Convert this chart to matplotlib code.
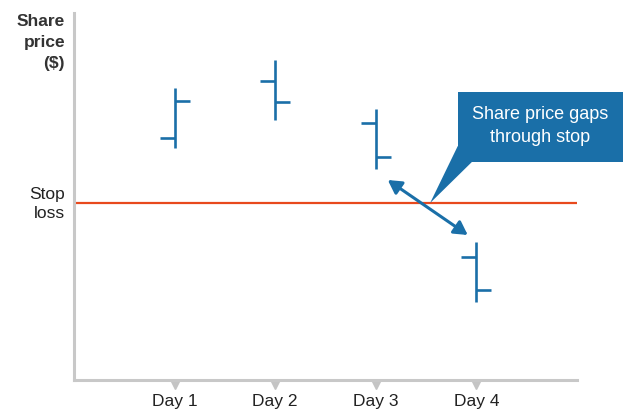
import matplotlib
matplotlib.use("Agg")
import matplotlib.pyplot as plt
from matplotlib.patches import Rectangle, Polygon
from matplotlib.transforms import blended_transform_factory

plt.rcParams['font.family'] = ['Liberation Sans', 'DejaVu Sans']

# OHLC share price data (arbitrary price units)
days = ["Day 1", "Day 2", "Day 3", "Day 4"]
opens = [24.2, 29.9, 25.7, 12.3]
highs = [29.2, 32.0, 27.1, 13.8]
lows = [23.2, 26.0, 21.1, 7.8]
closes = [27.9, 27.8, 22.3, 9.0]
stop_loss = 17.7

BLUE = "#1a6fa8"
RED = "#e8491d"
GREY = "#c8c8c8"

fig = plt.figure(figsize=(6.30, 4.12), dpi=100)
W, H = 630, 412
ax = fig.add_axes([74 / W, (H - 380) / H, (577 - 74) / W, (380 - 13) / H])
ax.set_xlim(0, 5)
ax.set_ylim(0, 36.7)

xs = list(range(1, len(days) + 1))
tick_len = 0.15
for x, o, h, l, c in zip(xs, opens, highs, lows, closes):
    ax.plot([x, x], [l, h], color=BLUE, lw=1.9, solid_capstyle="butt")
    ax.plot([x - tick_len, x], [o, o], color=BLUE, lw=1.9, solid_capstyle="butt")
    ax.plot([x, x + tick_len], [c, c], color=BLUE, lw=1.9, solid_capstyle="butt")

# stop-loss level
ax.axhline(stop_loss, color=RED, lw=1.6)

# axes styling
for side in ("top", "right"):
    ax.spines[side].set_visible(False)
for side in ("left", "bottom"):
    ax.spines[side].set_color(GREY)
    ax.spines[side].set_linewidth(2.2)
ax.set_yticks([])
ax.set_xticks(xs)
ax.set_xticklabels(days, fontsize=12.5, color="#222222")
ax.tick_params(axis="x", length=0, pad=10)

# small triangular tick markers below the x axis
trans = blended_transform_factory(ax.transData, ax.transAxes)
ax.plot(xs, [-0.014] * len(xs), linestyle="none", marker="v", ms=6,
        color="#c4c4c4", transform=trans, clip_on=False)

# axis labels
fig.text(65 / W, 1 - 14 / H, "Share\nprice\n($)", ha="right", va="top",
         fontsize=12.5, fontweight="bold", color="#333333", linespacing=1.5)
ax.text(-0.09, stop_loss - 0.1, "Stop\nloss", ha="right", va="center",
        fontsize=12.5, color="#222222", linespacing=1.35)

# double-headed arrow across the gap
ax.annotate("", xy=(3.914, 14.5), xytext=(3.119, 20.0),
            arrowprops=dict(arrowstyle="<|-|>,head_length=0.8,head_width=0.45",
                            color=BLUE, lw=2.2, shrinkA=0, shrinkB=0))

# callout box with pointer
box = Rectangle((3.815, 21.8), 5.454 - 3.815, 28.8 - 21.8, facecolor=BLUE,
                edgecolor="none", clip_on=False, zorder=4)
ax.add_patch(box)
pointer = Polygon([(3.815, 23.4), (3.955, 21.8), (3.54, 17.7)], closed=True,
                  facecolor=BLUE, edgecolor="none", clip_on=False, zorder=4)
ax.add_patch(pointer)
ax.text((3.815 + 5.454) / 2, 25.4, "Share price gaps\nthrough stop", ha="center",
        va="center", color="white", fontsize=13, linespacing=1.45, zorder=5,
        clip_on=False)

fig.savefig("out.png", dpi=100)
